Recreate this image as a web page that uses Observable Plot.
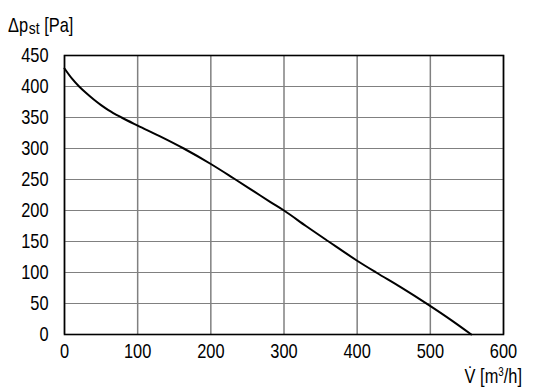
<!DOCTYPE html>
<html>
<head>
<meta charset="utf-8">
<script src="https://cdn.jsdelivr.net/npm/d3@7"></script>
<script src="https://cdn.jsdelivr.net/npm/@observablehq/plot@0.6"></script>
<style>
  html, body { margin: 0; padding: 0; background: #fff; }
</style>
</head>
<body>
<div id="chart"></div>
<script>
const flow = [0, 10, 20, 30, 40, 50, 60, 78, 100, 130, 163, 200, 231, 260, 281, 300, 330, 361, 400, 426, 460, 496, 530, 556];
const pressure = [429, 413, 400, 389, 379, 370, 362, 350, 337, 320, 300, 275, 252, 230, 214, 200, 175, 150, 119, 100, 76, 49, 22, 0];
const xTicks = [0, 100, 200, 300, 400, 500, 600];
const yTicks = [0, 50, 100, 150, 200, 250, 300, 350, 400, 450];
const yTitle = ["Δp", "st", " [Pa]"];
const xTitle = ["V\u0307 [m", "3", "/h]"];

const data = flow.map((f, i) => ({flow: f, pressure: pressure[i]}));
const FONT = "'Liberation Sans', Arial, sans-serif";
const SQUEEZE = 0.82;

const chart = Plot.plot({
  width: 536,
  height: 390,
  marginLeft: 64,
  marginRight: 33,
  marginTop: 55,
  marginBottom: 56,
  style: {fontFamily: FONT, fontSize: "20px", color: "black", background: "white"},
  x: {domain: [0, 600]},
  y: {domain: [0, 450]},
  marks: [
    Plot.gridX(xTicks, {stroke: "#808080", strokeOpacity: 1, strokeWidth: 1.5}),
    Plot.gridY(yTicks, {stroke: "#808080", strokeOpacity: 1, strokeWidth: 1.2}),
    Plot.line(data, {x: "flow", y: "pressure", curve: "monotone-x", stroke: "black", strokeWidth: 2}),
    Plot.frame({stroke: "black", strokeWidth: 1.6}),
    Plot.axisX(xTicks, {tickSize: 0, tickPadding: 9, fontSize: 20, label: null, fill: "black"}),
    Plot.axisY(yTicks, {tickSize: 0, tickPadding: 16, fontSize: 20, label: null, fill: "black"})
  ]
});

document.getElementById("chart").appendChild(chart);

// condense the tick labels horizontally (narrow sans look), keeping their anchors
d3.select(chart).selectAll("g[aria-label^='x-axis'] text, g[aria-label^='y-axis'] text").each(function() {
  const tr = this.getAttribute("transform") || "";
  this.setAttribute("transform", (tr + ` scale(${SQUEEZE},1)`).trim());
});

const svg = d3.select(chart);
const t1 = svg.append("text")
  .attr("transform", `translate(8,32) scale(${SQUEEZE},1)`)
  .attr("text-anchor", "start")
  .attr("font-family", FONT).attr("font-size", 20).attr("fill", "black");
t1.append("tspan").text(yTitle[0]);
t1.append("tspan").attr("font-size", 17).attr("dx", 1).attr("dy", 2).text(yTitle[1]);
t1.append("tspan").attr("dy", -2).text(yTitle[2]);

const t2 = svg.append("text")
  .attr("transform", `translate(522,383) scale(${SQUEEZE},1)`)
  .attr("text-anchor", "end")
  .attr("font-family", FONT).attr("font-size", 20).attr("fill", "black");
t2.append("tspan").text(xTitle[0]);
t2.append("tspan").attr("font-size", 12).attr("dy", -7).text(xTitle[1]);
t2.append("tspan").attr("dy", 7).text(xTitle[2]);
</script>
</body>
</html>
